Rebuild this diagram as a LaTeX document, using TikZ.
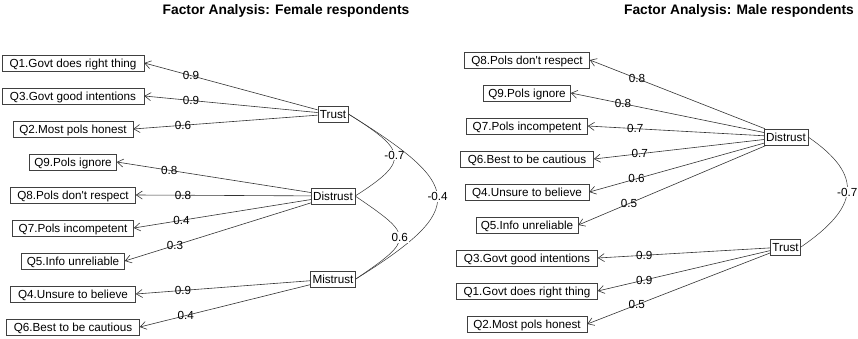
\documentclass[tikz,border=0pt]{standalone}
\usepackage{fontspec}
\setmainfont{Liberation Sans}[Ligatures=TeXOff]
\usetikzlibrary{arrows.meta}
\begin{document}
\begin{tikzpicture}[x=1pt, y=-1pt, font=\fontsize{11.7}{14}\selectfont]
        \tikzstyle{box} = [draw=black!75, line width=0.6pt, rectangle, inner ysep=0pt, minimum height=16pt, text height=8.4pt, text depth=0pt]
        \tikzstyle{obs} = [box, inner xsep=0pt]
        \tikzstyle{lat} = [box, inner xsep=2pt]
        \tikzstyle{load} = [draw=black!80, line width=0.6pt, -{Straight Barb[length=6pt, width=8pt]}]
        \tikzstyle{lab} = [pos=0.73, inner sep=0pt]
        \tikzstyle{cov} = [draw=black!80, line width=0.5pt]
        \tikzstyle{covlab} = [fill=white, inner sep=1pt]
        \tikzstyle{ttl} = [font=\fontsize{13.8}{16}\selectfont\bfseries, anchor=base]
        \useasboundingbox (0,0) rectangle (858,339);
        % female respondents
        \node[ttl] (fTitle) at (286,15) {Factor Analysis: Female respondents};
        \node[obs, minimum width=142] (fQ1) at (73,63) {Q1.Govt does right thing};
        \node[obs, minimum width=142] (fQ3) at (73,96) {Q3.Govt good intentions};
        \node[obs, minimum width=120] (fQ2) at (73,129) {Q2.Most pols honest};
        \node[obs, minimum width=87] (fQ9) at (73,162) {Q9.Pols ignore};
        \node[obs, minimum width=125] (fQ8) at (73,195) {Q8.Pols don't respect};
        \node[obs, minimum width=121] (fQ7) at (73,228) {Q7.Pols incompetent};
        \node[obs, minimum width=103] (fQ5) at (73,261) {Q5.Info unreliable};
        \node[obs, minimum width=125] (fQ4) at (73,294) {Q4.Unsure to believe};
        \node[obs, minimum width=133] (fQ6) at (73,327) {Q6.Best to be cautious};
        \node[lat] (fT) at (333,114) {Trust};
        \node[lat] (fD) at (333,196) {Distrust};
        \node[lat] (fM) at (333,279) {Mistrust};
        \draw[load] (fT) -- node[lab] {0.9} (fQ1.east);
        \draw[load] (fT) -- node[lab] {0.9} (fQ3.east);
        \draw[load] (fT) -- node[lab] {0.6} (fQ2.east);
        \draw[load] (fD) -- node[lab] {0.8} (fQ9.east);
        \draw[load] (fD) -- node[lab] {0.8} (fQ8.east);
        \draw[load] (fD) -- node[lab] {0.4} (fQ7.east);
        \draw[load] (fD) -- node[lab] {0.3} (fQ5.east);
        \draw[load] (fM) -- node[lab] {0.9} (fQ4.east);
        \draw[load] (fM) -- node[lab] {0.4} (fQ6.east);
        \draw[cov] (fT.east) .. controls +(57,36) and +(57,-36) .. node[covlab] {-0.7} (fD.east);
        \draw[cov] (fT.east) .. controls +(114,71) and +(114,-71) .. node[covlab] {-0.4} (fM.east);
        \draw[cov] (fD.east) .. controls +(59,40) and +(59,-40) .. node[covlab] {0.6} (fM.east);
        % male respondents
        \node[ttl] (mTitle) at (739,15) {Factor Analysis: Male respondents};
        \node[obs, minimum width=125] (mQ8) at (527,60) {Q8.Pols don't respect};
        \node[obs, minimum width=87] (mQ9) at (527,93) {Q9.Pols ignore};
        \node[obs, minimum width=121] (mQ7) at (527,126) {Q7.Pols incompetent};
        \node[obs, minimum width=133] (mQ6) at (527,159) {Q6.Best to be cautious};
        \node[obs, minimum width=124] (mQ4) at (527,192) {Q4.Unsure to believe};
        \node[obs, minimum width=102] (mQ5) at (527,225) {Q5.Info unreliable};
        \node[obs, minimum width=141] (mQ3) at (527,258) {Q3.Govt good intentions};
        \node[obs, minimum width=141] (mQ1) at (527,291) {Q1.Govt does right thing};
        \node[obs, minimum width=120] (mQ2) at (527,324) {Q2.Most pols honest};
        \node[lat] (mD) at (786,137) {Distrust};
        \node[lat] (mT) at (785.5,247) {Trust};
        \draw[load] (mD) -- node[lab] {0.8} (mQ8.east);
        \draw[load] (mD) -- node[lab] {0.8} (mQ9.east);
        \draw[load] (mD) -- node[lab] {0.7} (mQ7.east);
        \draw[load] (mD) -- node[lab] {0.7} (mQ6.east);
        \draw[load] (mD) -- node[lab] {0.6} (mQ4.east);
        \draw[load] (mD) -- node[lab] {0.5} (mQ5.east);
        \draw[load] (mT) -- node[lab] {0.9} (mQ3.east);
        \draw[load] (mT) -- node[lab] {0.9} (mQ1.east);
        \draw[load] (mT) -- node[lab] {0.5} (mQ2.east);
        \draw[cov] (mD.east) .. controls +(57,39) and +(57,-39) .. node[covlab] {-0.7} (mT.east);
      \end{tikzpicture}
\end{document}
